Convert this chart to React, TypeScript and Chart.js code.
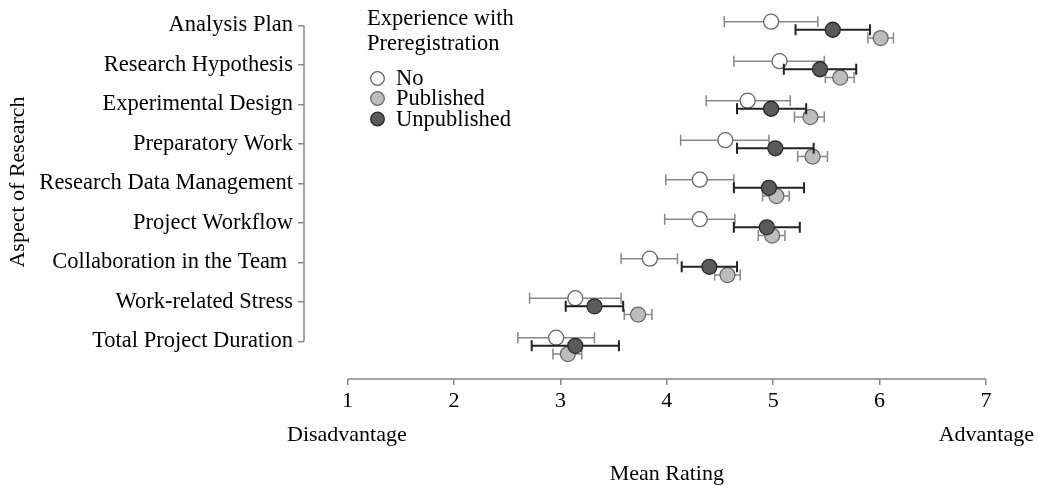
import React, { useEffect, useRef } from "react";
import { Chart, registerables } from "chart.js";

Chart.register(...registerables);

const categories = [
  "Analysis Plan",
  "Research Hypothesis",
  "Experimental Design",
  "Preparatory Work",
  "Research Data Management",
  "Project Workflow",
  "Collaboration in the Team ",
  "Work-related Stress",
  "Total Project Duration",
];

const xTicks = [1, 2, 3, 4, 5, 6, 7];

const noMean = [4.98, 5.06, 4.76, 4.55, 4.31, 4.31, 3.84, 3.14, 2.96];
const noLow = [4.54, 4.63, 4.37, 4.13, 3.99, 3.98, 3.57, 2.71, 2.6];
const noHigh = [5.42, 5.48, 5.16, 4.96, 4.63, 4.64, 4.1, 3.57, 3.32];

const pubMean = [6.01, 5.63, 5.35, 5.37, 5.03, 4.99, 4.57, 3.73, 3.07];
const pubLow = [5.89, 5.49, 5.2, 5.23, 4.9, 4.86, 4.45, 3.6, 2.93];
const pubHigh = [6.13, 5.76, 5.48, 5.51, 5.15, 5.11, 4.69, 3.86, 3.2];

const unpubMean = [5.56, 5.44, 4.98, 5.02, 4.96, 4.94, 4.4, 3.32, 3.14];
const unpubLow = [5.21, 5.1, 4.66, 4.66, 4.63, 4.63, 4.14, 3.05, 2.73];
const unpubHigh = [5.91, 5.78, 5.31, 5.38, 5.29, 5.25, 4.66, 3.59, 3.55];

const legendTitle = ["Experience with", "Preregistration"];
const yTitle = "Aspect of Research";
const xTitle = "Mean Rating";
const leftNote = "Disadvantage";
const rightNote = "Advantage";

const FONT = '"Liberation Serif", "Times New Roman", Times, serif';

export default function App() {
  const ref = useRef<HTMLCanvasElement>(null);

  useEffect(() => {
    const groups = [
      { label: "No", mean: noMean, low: noLow, high: noHigh, offset: -0.095, fill: "#ffffff", border: "#666666", bar: "#888888", barWidth: 1.5, order: 2 },
      { label: "Published", mean: pubMean, low: pubLow, high: pubHigh, offset: 0.32, fill: "#bdbdbd", border: "#6a6a6a", bar: "#888888", barWidth: 1.5, order: 1 },
      { label: "Unpublished", mean: unpubMean, low: unpubLow, high: unpubHigh, offset: 0.11, fill: "#5a5a5a", border: "#2a2a2a", bar: "#222222", barWidth: 2, order: 0 },
    ];

    const errorBars = {
      id: "errorBars",
      beforeDatasetDraw(chart: any, args: any) {
        const g = groups[args.index];
        const ctx = chart.ctx;
        const xs = chart.scales.x;
        const ys = chart.scales.y;
        ctx.save();
        ctx.strokeStyle = g.bar;
        ctx.lineWidth = g.barWidth;
        g.mean.forEach((_v: number, i: number) => {
          const y = ys.getPixelForValue(i + g.offset);
          const x1 = xs.getPixelForValue(g.low[i]);
          const x2 = xs.getPixelForValue(g.high[i]);
          ctx.beginPath();
          ctx.moveTo(x1, y);
          ctx.lineTo(x2, y);
          ctx.moveTo(x1, y - 5.5);
          ctx.lineTo(x1, y + 5.5);
          ctx.moveTo(x2, y - 5.5);
          ctx.lineTo(x2, y + 5.5);
          ctx.stroke();
        });
        ctx.restore();
      },
    };

    const axesAndText = {
      id: "axesAndText",
      afterDraw(chart: any) {
        const ctx = chart.ctx;
        const xs = chart.scales.x;
        const ys = chart.scales.y;
        const area = chart.chartArea;
        ctx.save();
        ctx.strokeStyle = "#888888";
        ctx.lineWidth = 1.5;
        ctx.beginPath();
        ctx.moveTo(area.left, ys.getPixelForValue(0));
        ctx.lineTo(area.left, ys.getPixelForValue(categories.length - 1));
        ctx.moveTo(xs.getPixelForValue(xTicks[0]), area.bottom);
        ctx.lineTo(xs.getPixelForValue(xTicks[xTicks.length - 1]), area.bottom);
        ctx.stroke();

        ctx.fillStyle = "#000000";
        ctx.font = `22px ${FONT}`;
        ctx.textBaseline = "alphabetic";
        ctx.textAlign = "left";
        ctx.fillText(leftNote, 287, 441);
        ctx.textAlign = "right";
        ctx.fillText(rightNote, 1034, 441);
        ctx.textAlign = "center";
        ctx.fillText(xTitle, (xs.getPixelForValue(1) + xs.getPixelForValue(7)) / 2, 480);

        ctx.save();
        ctx.translate(18, 182);
        ctx.rotate(-Math.PI / 2);
        ctx.textAlign = "center";
        ctx.textBaseline = "middle";
        ctx.fillText(yTitle, 0, 0);
        ctx.restore();

        ctx.textAlign = "left";
        ctx.textBaseline = "alphabetic";
        ctx.font = `22.5px ${FONT}`;
        ctx.fillText(legendTitle[0], 367, 25);
        ctx.fillText(legendTitle[1], 367, 50);
        const itemYs = [78.5, 98.5, 119];
        groups.forEach((g, i) => {
          ctx.beginPath();
          ctx.arc(377.5, itemYs[i], 6.8, 0, Math.PI * 2);
          ctx.fillStyle = g.fill;
          ctx.fill();
          ctx.strokeStyle = g.border;
          ctx.lineWidth = 1.3;
          ctx.stroke();
          ctx.fillStyle = "#000000";
          ctx.textBaseline = "middle";
          ctx.fillText(g.label, 396, itemYs[i] + 1);
        });
        ctx.restore();
      },
    };

    const chart = new Chart(ref.current as HTMLCanvasElement, {
      type: "scatter",
      data: {
        datasets: groups.map((g) => ({
          label: g.label,
          data: g.mean.map((m, i) => ({ x: m, y: i + g.offset })),
          pointRadius: 7.5,
          pointHoverRadius: 7.5,
          pointBackgroundColor: g.fill,
          pointBorderColor: g.border,
          pointBorderWidth: 1.3,
          showLine: false,
          order: g.order,
          clip: false as any,
        })),
      },
      options: {
        animation: false,
        responsive: true,
        maintainAspectRatio: false,
        layout: { padding: { top: 14, right: 53, left: 0, bottom: 0 } },
        plugins: {
          legend: { display: false },
          tooltip: { enabled: false },
        },
        scales: {
          x: {
            type: "linear",
            min: 0.59,
            max: 7,
            afterBuildTicks: (s: any) => {
              s.ticks = xTicks.map((v) => ({ value: v }));
            },
            afterFit: (s: any) => {
              s.height = 107;
            },
            ticks: {
              autoSkip: false,
              maxRotation: 0,
              padding: 3,
              color: "#000000",
              font: { family: FONT, size: 22 },
              callback: (v: any) => String(v),
            },
            grid: { drawOnChartArea: false, drawTicks: true, tickLength: 6, color: "#888888", lineWidth: 1.5 },
            border: { display: false },
          },
          y: {
            type: "linear",
            reverse: true,
            min: -0.175,
            max: 8.95,
            afterBuildTicks: (s: any) => {
              s.ticks = categories.map((_c, i) => ({ value: i }));
            },
            afterFit: (s: any) => {
              s.width = 304;
            },
            ticks: {
              autoSkip: false,
              padding: 5,
              color: "#000000",
              font: { family: FONT, size: 22.5 },
              callback: (v: any) => categories[v as number] ?? "",
            },
            grid: { drawOnChartArea: false, drawTicks: true, tickLength: 6, color: "#888888", lineWidth: 1.5 },
            border: { display: false },
          },
        },
      },
      plugins: [errorBars, axesAndText],
    });

    return () => chart.destroy();
  }, []);

  return (
    <div style={{ position: "absolute", left: 0, top: 0, width: 1039, height: 486, background: "#ffffff" }}>
      <canvas ref={ref} />
    </div>
  );
}
